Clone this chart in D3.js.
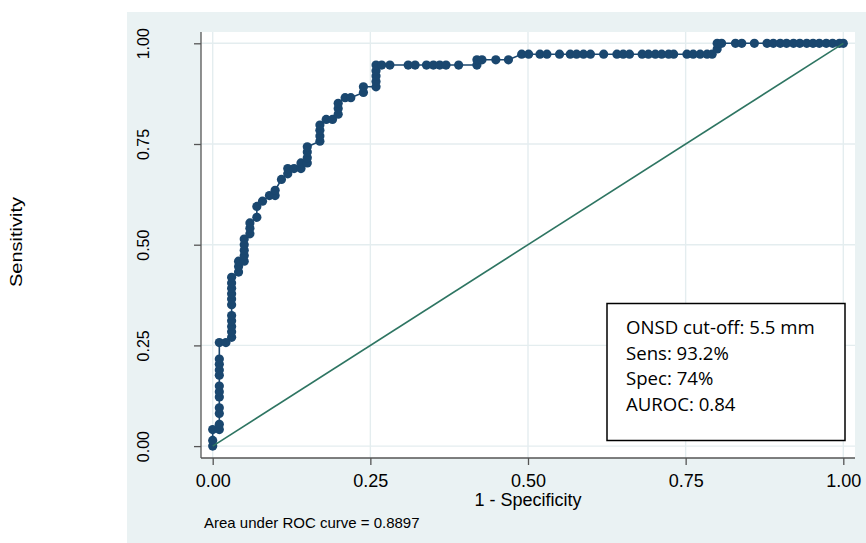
<!DOCTYPE html>
<html>
<head>
<meta charset="utf-8">
<script src="https://cdn.jsdelivr.net/npm/d3@7"></script>
<style>
  html, body { margin: 0; padding: 0; background: #ffffff; }
  svg { display: block; }
</style>
</head>
<body>
<svg id="chart" width="866" height="543"></svg>
<script>
// ROC curve coordinates: 1 - specificity (x) and sensitivity (y) at each cut-off
const fpr = [
  0, 0, 0, 0.0105, 0.0105, 0.0105, 0.0105, 0.0105, 0.0105, 0.0105, 0.0105, 0.0105, 0.0105, 0.0105, 0.0105,
  0.021, 0.030, 0.030, 0.030, 0.030, 0.030, 0.030, 0.030, 0.030, 0.030, 0.030, 0.030,
  0.041, 0.041, 0.041, 0.050, 0.050, 0.050, 0.050, 0.050, 0.059, 0.059, 0.059,
  0.070, 0.070, 0.079, 0.090, 0.099, 0.099, 0.109, 0.119, 0.119, 0.129, 0.140, 0.140,
  0.150, 0.150, 0.150, 0.150, 0.170, 0.170, 0.170, 0.170, 0.180, 0.190, 0.199, 0.199, 0.199,
  0.210, 0.219, 0.239, 0.239, 0.259, 0.259, 0.259, 0.259, 0.259,
  0.268, 0.281, 0.310, 0.321, 0.339, 0.350, 0.360, 0.370, 0.390, 0.419,
  0.419, 0.427, 0.449, 0.469,
  0.490, 0.501, 0.519, 0.530, 0.550, 0.567, 0.577, 0.588, 0.599, 0.620, 0.641, 0.651, 0.661,
  0.681, 0.691, 0.702, 0.712, 0.723, 0.731, 0.752, 0.762, 0.773, 0.784, 0.792,
  0.800, 0.800, 0.807, 0.829, 0.839, 0.859, 0.879, 0.889, 0.900, 0.910, 0.921, 0.931, 0.942,
  0.952, 0.962, 0.973, 0.983, 0.994, 1.0
];
const tpr = [
  0, 0.014, 0.041, 0.041, 0.054, 0.081, 0.095, 0.122, 0.135, 0.149, 0.176, 0.189, 0.203, 0.216, 0.257,
  0.257, 0.270, 0.284, 0.297, 0.311, 0.324, 0.351, 0.365, 0.378, 0.392, 0.405, 0.419,
  0.432, 0.446, 0.459, 0.459, 0.473, 0.486, 0.500, 0.514, 0.527, 0.541, 0.554,
  0.568, 0.595, 0.608, 0.622, 0.622, 0.635, 0.662, 0.676, 0.689, 0.689, 0.689, 0.703,
  0.703, 0.716, 0.730, 0.743, 0.757, 0.770, 0.784, 0.797, 0.811, 0.811, 0.824, 0.838, 0.851,
  0.865, 0.865, 0.878, 0.892, 0.892, 0.905, 0.919, 0.932, 0.946,
  0.946, 0.946, 0.946, 0.946, 0.946, 0.946, 0.946, 0.946, 0.946, 0.946,
  0.959, 0.959, 0.959, 0.959,
  0.973, 0.973, 0.973, 0.973, 0.973, 0.973, 0.973, 0.973, 0.973, 0.973, 0.973, 0.973, 0.973,
  0.973, 0.973, 0.973, 0.973, 0.973, 0.973, 0.973, 0.973, 0.973, 0.973, 0.973,
  0.986, 1.0, 1.0, 1.0, 1.0, 1.0, 1.0, 1.0, 1.0, 1.0, 1.0, 1.0, 1.0,
  1.0, 1.0, 1.0, 1.0, 1.0, 1.0
];
// Chance (reference) line
const refLine = [[0, 0], [1, 1]];
// Axis ticks and labels
const xTicks = [0, 0.25, 0.5, 0.75, 1];
const yTicks = [0, 0.25, 0.5, 0.75, 1];
const xTitle = "1 - Specificity";
const yTitle = "Sensitivity";
const note = "Area under ROC curve = 0.8897";
const boxLines = ["ONSD cut-off: 5.5 mm", "Sens: 93.2%", "Spec: 74%", "AUROC: 0.84"];

const svg = d3.select("#chart");
const axisFont = "'Liberation Sans', Arial, Helvetica, sans-serif";
const navy = "#1a476f";

// Outer graph region
svg.append("rect").attr("x", 127).attr("y", 12).attr("width", 739).attr("height", 531).attr("fill", "#eaf2f3");

// Plot region
const region = { left: 201, right: 855, top: 32, bottom: 458 };
svg.append("rect")
  .attr("x", region.left).attr("y", region.top)
  .attr("width", region.right - region.left).attr("height", region.bottom - region.top)
  .attr("fill", "#ffffff");

const x = d3.scaleLinear().domain([0, 1]).range([212.7, 843.3]);
const y = d3.scaleLinear().domain([0, 1]).range([446.1, 43.3]);

// Grid lines
const grid = svg.append("g").attr("stroke", "#e4edef").attr("stroke-width", 1.4);
grid.selectAll("line.h").data(yTicks).join("line").attr("class", "h")
  .attr("x1", region.left).attr("x2", region.right)
  .attr("y1", d => y(d)).attr("y2", d => y(d));
grid.selectAll("line.v").data(xTicks).join("line").attr("class", "v")
  .attr("y1", region.top).attr("y2", region.bottom)
  .attr("x1", d => x(d)).attr("x2", d => x(d));

// Axis lines
svg.append("line").attr("x1", region.left).attr("x2", region.left)
  .attr("y1", region.top).attr("y2", region.bottom)
  .attr("stroke", "#555").attr("stroke-width", 1.3);
svg.append("line").attr("x1", region.left).attr("x2", region.right)
  .attr("y1", region.bottom).attr("y2", region.bottom)
  .attr("stroke", "#555").attr("stroke-width", 1.3);

// Bottom axis
const gx = svg.append("g").attr("transform", `translate(0,${region.bottom})`)
  .call(d3.axisBottom(x).tickValues(xTicks).tickSize(7).tickFormat(d3.format(".2f")));
gx.select(".domain").remove();
gx.selectAll(".tick line").attr("stroke", "#555").attr("stroke-width", 1.3);
gx.selectAll(".tick text")
  .attr("y", 28.5).attr("dy", 0)
  .attr("fill", "#000").attr("font-family", axisFont).attr("font-size", 18);

// Left axis with rotated labels
const gy = svg.append("g").attr("transform", `translate(${region.left},0)`)
  .call(d3.axisLeft(y).tickValues(yTicks).tickSize(7).tickFormat(d3.format(".2f")));
gy.select(".domain").remove();
gy.selectAll(".tick line").attr("stroke", "#555").attr("stroke-width", 1.3);
gy.selectAll(".tick text")
  .attr("x", 0).attr("y", 0).attr("dy", 0)
  .attr("text-anchor", "middle")
  .attr("transform", "translate(-52.5,0) rotate(-90)")
  .attr("fill", "#000").attr("font-family", axisFont).attr("font-size", 16);

// Axis titles
svg.append("text").attr("x", x(0.5)).attr("y", 505.5)
  .attr("text-anchor", "middle").attr("font-family", axisFont).attr("font-size", 18)
  .attr("fill", "#000").text(xTitle);
svg.append("text")
  .attr("transform", "translate(22,242) rotate(-90)")
  .attr("text-anchor", "middle").attr("font-family", axisFont).attr("font-size", 16)
  .attr("textLength", 90).attr("lengthAdjust", "spacingAndGlyphs")
  .attr("fill", "#000").text(yTitle);

// Note below the plot
svg.append("text").attr("x", 204).attr("y", 528)
  .attr("font-family", axisFont).attr("font-size", 15).attr("fill", "#000").text(note);

// ROC curve
const pts = fpr.map((v, i) => [v, tpr[i]]);
svg.append("path").datum(pts)
  .attr("d", d3.line().x(d => x(d[0])).y(d => y(d[1])))
  .attr("fill", "none").attr("stroke", navy).attr("stroke-width", 1.6);
svg.append("g").selectAll("circle").data(pts).join("circle")
  .attr("cx", d => x(d[0])).attr("cy", d => y(d[1])).attr("r", 4.6)
  .attr("fill", navy);

// Reference line
svg.append("path").datum(refLine)
  .attr("d", d3.line().x(d => x(d[0])).y(d => y(d[1])))
  .attr("fill", "none").attr("stroke", "#2e7562").attr("stroke-width", 1.6);

// Annotation box
const box = svg.append("g");
box.append("rect").attr("x", 607).attr("y", 303.5).attr("width", 238).attr("height", 137)
  .attr("fill", "#ffffff").attr("stroke", "#000").attr("stroke-width", 1.5);
box.selectAll("text").data(boxLines).join("text")
  .attr("x", 626).attr("y", (d, i) => 334 + i * 25.5)
  .attr("font-family", "'Open Sans', 'Noto Sans', sans-serif").attr("font-size", 18.6)
  .attr("fill", "#000").text(d => d);
</script>
</body>
</html>
